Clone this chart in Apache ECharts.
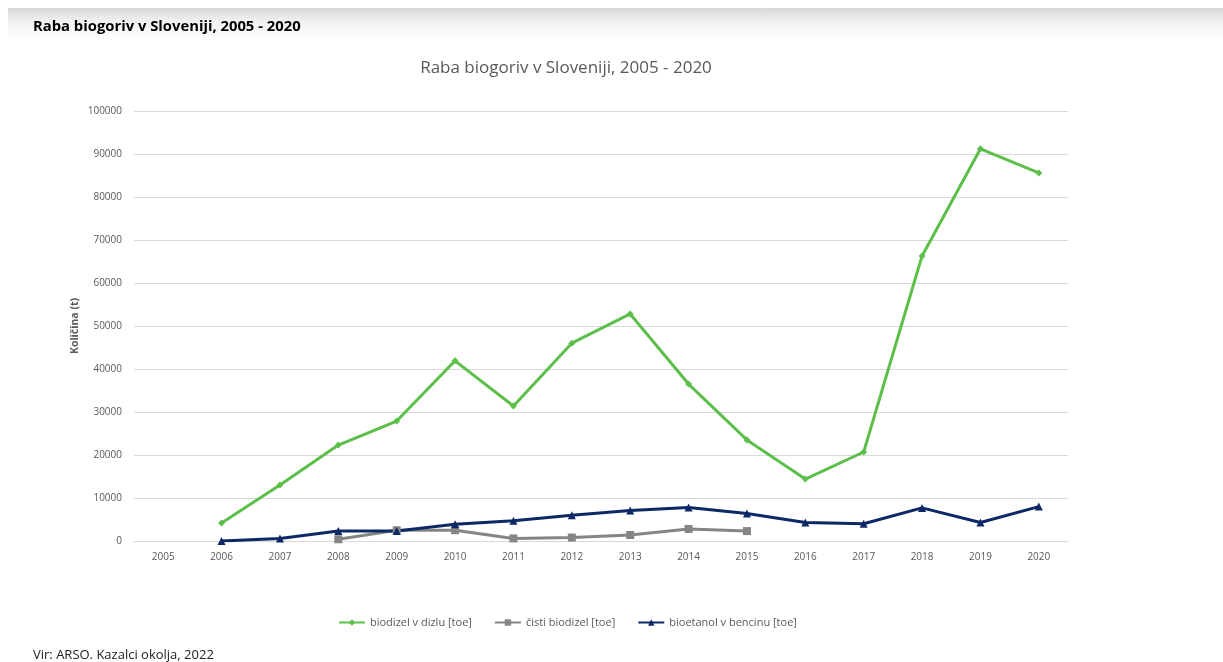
<!DOCTYPE html>
<html>
<head>
<meta charset="utf-8">
<script src="https://cdn.jsdelivr.net/npm/echarts@6/dist/echarts.min.js"></script>
<style>
  html, body { margin: 0; padding: 0; background: #ffffff; }
  #wrap { position: relative; width: 1223px; height: 662px; }
  #band { position: absolute; left: 8px; right: 0; top: 8px; height: 34px;
          background: linear-gradient(to bottom, #d8d8d8 0%, #efefef 35%, #fbfbfb 75%, #ffffff 100%); }
  #chart { position: absolute; left: 0; top: 0; width: 1223px; height: 662px; }
</style>
</head>
<body>
<div id="wrap">
  <div id="band"></div>
  <div id="chart"></div>
</div>
<script>
const years = ['2005','2006','2007','2008','2009','2010','2011','2012','2013','2014','2015','2016','2017','2018','2019','2020'];
const biodizelVDizlu = [null, 4200, 13000, 22300, 27900, 41900, 31400, 46000, 52800, 36500, 23500, 14400, 20700, 66300, 91200, 85600];
const cistiBiodizel = [null, null, null, 400, 2500, 2500, 600, 800, 1400, 2800, 2300, null, null, null, null, null];
const bioetanol = [null, 0, 600, 2300, 2300, 3900, 4700, 6000, 7100, 7800, 6400, 4300, 4000, 7700, 4300, 8000];
const seriesNames = ['biodizel v dizlu [toe]', 'čisti biodizel [toe]', 'bioetanol v bencinu [toe]'];

const FONT = '"Open Sans", "DejaVu Sans", sans-serif';
const chart = echarts.init(document.getElementById('chart'), null, { renderer: 'canvas' });
chart.setOption({
  animation: false,
  textStyle: { fontFamily: FONT },
  title: [
    { text: 'Raba biogoriv v Sloveniji, 2005 - 2020', left: 33, top: 19, padding: 0,
      textStyle: { fontFamily: FONT, fontSize: 14.8, fontWeight: 'bold', color: '#000' } },
    { text: 'Raba biogoriv v Sloveniji, 2005 - 2020', left: 566, top: 60, padding: 0, textAlign: 'center',
      textStyle: { fontFamily: FONT, fontSize: 17, fontWeight: 'normal', color: '#595959' } },
    { text: 'Vir: ARSO. Kazalci okolja, 2022', left: 33, top: 649, padding: 0,
      textStyle: { fontFamily: FONT, fontSize: 13, fontWeight: 'normal', color: '#222' } }
  ],
  legend: {
    data: seriesNames,
    left: 338,
    top: 617,
    padding: 0,
    itemWidth: 26,
    itemHeight: 8,
    itemGap: 22,
    textStyle: { fontFamily: FONT, fontSize: 11, color: '#595959' }
  },
  grid: { left: 134, right: 155, top: 111, bottom: 121 },
  xAxis: {
    type: 'category',
    data: years,
    boundaryGap: true,
    axisLine: { show: true, lineStyle: { color: '#d9d9d9', width: 1 } },
    axisTick: { show: false },
    axisLabel: { color: '#595959', fontSize: 10, margin: 11 }
  },
  yAxis: {
    type: 'value',
    min: 0, max: 100000, interval: 10000,
    name: 'Količina (t)',
    nameLocation: 'middle',
    nameRotate: 90,
    nameGap: 53,
    nameMoveOverlap: false,
    nameTextStyle: { color: '#595959', fontSize: 10.5, fontWeight: 'bold' },
    axisLine: { show: false },
    axisTick: { show: false },
    axisLabel: { color: '#595959', fontSize: 10, margin: 12, formatter: function (v) { return String(v); } },
    splitLine: { lineStyle: { color: '#d9d9d9', width: 1 } }
  },
  series: [
    { name: seriesNames[0], type: 'line', data: biodizelVDizlu, symbol: 'diamond', symbolSize: 7,
      lineStyle: { color: '#5cbf4a', width: 3 }, itemStyle: { color: '#5cbf4a' } },
    { name: seriesNames[1], type: 'line', data: cistiBiodizel, symbol: 'rect', symbolSize: 8,
      lineStyle: { color: '#858585', width: 3 }, itemStyle: { color: '#858585' } },
    { name: seriesNames[2], type: 'line', data: bioetanol, symbol: 'triangle', symbolSize: 8,
      lineStyle: { color: '#0d2866', width: 3 }, itemStyle: { color: '#0d2866' } }
  ]
});
</script>
</body>
</html>
